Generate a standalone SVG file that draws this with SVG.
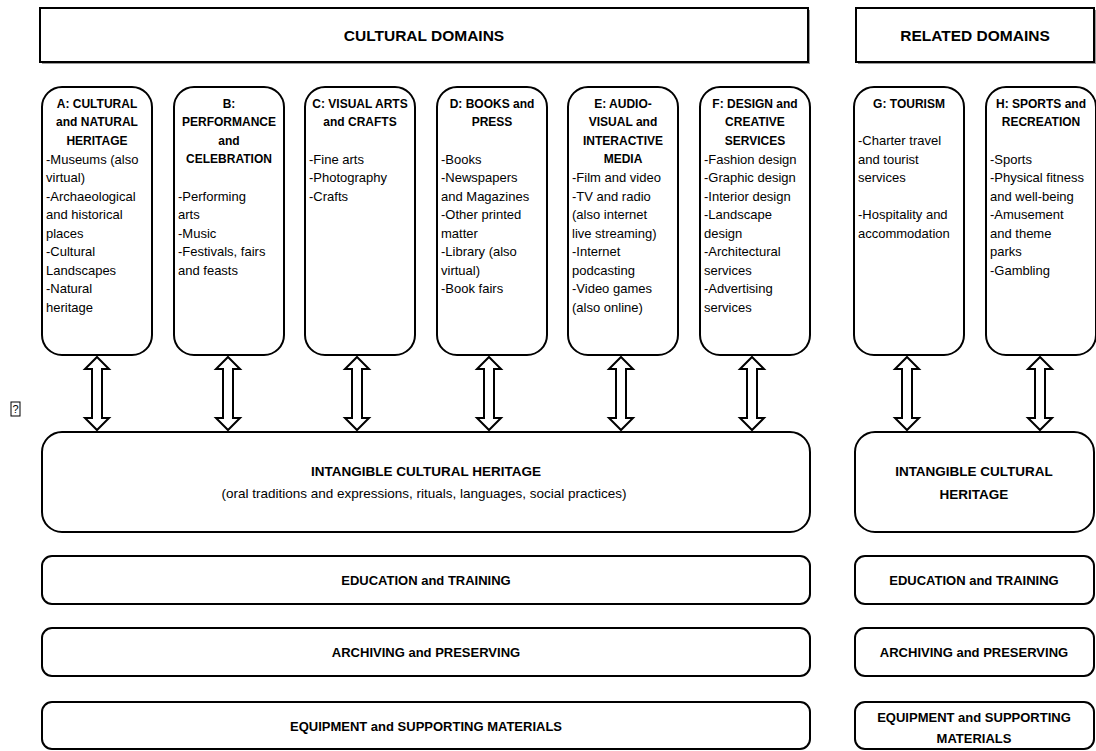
<svg xmlns="http://www.w3.org/2000/svg" width="1096" height="751" viewBox="0 0 1096 751">
<style>
text{font-family:"Liberation Sans",Arial,sans-serif;fill:#000}
.box{fill:#fff;stroke:#000;stroke-width:2}
.shadow{fill:#9a9a9a;stroke:none}
.hdr{font-size:15.5px;font-weight:bold;text-anchor:middle}
.t{font-size:12px;font-weight:bold;text-anchor:middle}
.b{font-size:13px}
.big{font-size:13.5px;font-weight:bold;text-anchor:middle}
.sub{font-size:13.5px;text-anchor:middle}
.lbl{font-size:13px;font-weight:bold;text-anchor:middle}
.arr{fill:#fff;stroke:#000;stroke-width:2;stroke-linejoin:miter}
</style>
<defs>
<path id="dbl" class="arr" d="M0,357 L12,369 L5,369 L5,418 L12,418 L0,430 L-12,418 L-5,418 L-5,369 L-12,369 Z"/>
</defs>

<g id="hdr-cultural">
<rect class="shadow" x="42" y="10" width="768" height="54"/>
<rect class="box" x="40" y="8" width="768" height="54"/>
<text class="hdr" x="424" y="41">CULTURAL DOMAINS</text>
</g>
<g id="hdr-related">
<rect class="shadow" x="858" y="10" width="238" height="54"/>
<rect class="box" x="856" y="8" width="238" height="54"/>
<text class="hdr" x="975" y="41">RELATED DOMAINS</text>
</g>

<g id="domain-a">
<rect class="box" x="42" y="87" width="110" height="268" rx="20"/>
<text class="t" x="97" y="108">A: CULTURAL</text>
<text class="t" x="97" y="126">and NATURAL</text>
<text class="t" x="97" y="145">HERITAGE</text>
<text class="b" x="46" y="164">-Museums (also</text>
<text class="b" x="46" y="182">virtual)</text>
<text class="b" x="46" y="201">-Archaeological</text>
<text class="b" x="46" y="219">and historical</text>
<text class="b" x="46" y="238">places</text>
<text class="b" x="46" y="256">-Cultural</text>
<text class="b" x="46" y="275">Landscapes</text>
<text class="b" x="46" y="293">-Natural</text>
<text class="b" x="46" y="312">heritage</text>
</g>

<g id="domain-b">
<rect class="box" x="174" y="87" width="110" height="268" rx="20"/>
<text class="t" x="229" y="108">B:</text>
<text class="t" x="229" y="126">PERFORMANCE</text>
<text class="t" x="229" y="145">and</text>
<text class="t" x="229" y="163">CELEBRATION</text>
<text class="b" x="178" y="201">-Performing</text>
<text class="b" x="178" y="219">arts</text>
<text class="b" x="178" y="238">-Music</text>
<text class="b" x="178" y="256">-Festivals, fairs</text>
<text class="b" x="178" y="275">and feasts</text>
</g>

<g id="domain-c">
<rect class="box" x="305" y="87" width="110" height="268" rx="20"/>
<text class="t" x="360" y="108">C: VISUAL ARTS</text>
<text class="t" x="360" y="126">and CRAFTS</text>
<text class="b" x="309" y="164">-Fine arts</text>
<text class="b" x="309" y="182">-Photography</text>
<text class="b" x="309" y="201">-Crafts</text>
</g>

<g id="domain-d">
<rect class="box" x="437" y="87" width="110" height="268" rx="20"/>
<text class="t" x="492" y="108">D: BOOKS and</text>
<text class="t" x="492" y="126">PRESS</text>
<text class="b" x="441" y="164">-Books</text>
<text class="b" x="441" y="182">-Newspapers</text>
<text class="b" x="441" y="201">and Magazines</text>
<text class="b" x="441" y="219">-Other printed</text>
<text class="b" x="441" y="238">matter</text>
<text class="b" x="441" y="256">-Library (also</text>
<text class="b" x="441" y="275">virtual)</text>
<text class="b" x="441" y="293">-Book fairs</text>
</g>

<g id="domain-e">
<rect class="box" x="568" y="87" width="110" height="268" rx="20"/>
<text class="t" x="623" y="108">E: AUDIO-</text>
<text class="t" x="623" y="126">VISUAL and</text>
<text class="t" x="623" y="145">INTERACTIVE</text>
<text class="t" x="623" y="163">MEDIA</text>
<text class="b" x="572" y="182">-Film and video</text>
<text class="b" x="572" y="201">-TV and radio</text>
<text class="b" x="572" y="219">(also internet</text>
<text class="b" x="572" y="238">live streaming)</text>
<text class="b" x="572" y="256">-Internet</text>
<text class="b" x="572" y="275">podcasting</text>
<text class="b" x="572" y="293">-Video games</text>
<text class="b" x="572" y="312">(also online)</text>
</g>

<g id="domain-f">
<rect class="box" x="700" y="87" width="110" height="268" rx="20"/>
<text class="t" x="755" y="108">F: DESIGN and</text>
<text class="t" x="755" y="126">CREATIVE</text>
<text class="t" x="755" y="145">SERVICES</text>
<text class="b" x="704" y="164">-Fashion design</text>
<text class="b" x="704" y="182">-Graphic design</text>
<text class="b" x="704" y="201">-Interior design</text>
<text class="b" x="704" y="219">-Landscape</text>
<text class="b" x="704" y="238">design</text>
<text class="b" x="704" y="256">-Architectural</text>
<text class="b" x="704" y="275">services</text>
<text class="b" x="704" y="293">-Advertising</text>
<text class="b" x="704" y="312">services</text>
</g>

<g id="domain-g">
<rect class="box" x="854" y="87" width="110" height="268" rx="20"/>
<text class="t" x="909" y="108">G: TOURISM</text>
<text class="b" x="858" y="145">-Charter travel</text>
<text class="b" x="858" y="164">and tourist</text>
<text class="b" x="858" y="182">services</text>
<text class="b" x="858" y="219">-Hospitality and</text>
<text class="b" x="858" y="238">accommodation</text>
</g>

<g id="domain-h">
<rect class="box" x="986" y="87" width="110" height="268" rx="20"/>
<text class="t" x="1041" y="108">H: SPORTS and</text>
<text class="t" x="1041" y="126">RECREATION</text>
<text class="b" x="990" y="164">-Sports</text>
<text class="b" x="990" y="182">-Physical fitness</text>
<text class="b" x="990" y="201">and well-being</text>
<text class="b" x="990" y="219">-Amusement</text>
<text class="b" x="990" y="238">and theme</text>
<text class="b" x="990" y="256">parks</text>
<text class="b" x="990" y="275">-Gambling</text>
</g>

<g id="connectors">
<use href="#dbl" x="97"/>
<use href="#dbl" x="228"/>
<use href="#dbl" x="357"/>
<use href="#dbl" x="489"/>
<use href="#dbl" x="621"/>
<use href="#dbl" x="752"/>
<use href="#dbl" x="907"/>
<use href="#dbl" x="1040"/>
</g>

<g id="stray-mark">
<rect x="11" y="402" width="9" height="14" fill="#fff" stroke="#000" stroke-width="1"/>
<text x="15.5" y="413" font-size="11" text-anchor="middle">?</text>
</g>

<g id="ich-main">
<rect class="box" x="42" y="432" width="768" height="100" rx="20"/>
<text class="big" x="426" y="476">INTANGIBLE CULTURAL HERITAGE</text>
<text class="sub" x="424" y="498">(oral traditions and expressions, rituals, languages, social practices)</text>
</g>
<g id="ich-related">
<rect class="box" x="855" y="432" width="239" height="100" rx="20"/>
<text class="big" x="974" y="476">INTANGIBLE CULTURAL</text>
<text class="big" x="974" y="499">HERITAGE</text>
</g>

<g id="edu-main">
<rect class="box" x="42" y="556" width="768" height="48" rx="10"/>
<text class="lbl" x="426" y="585">EDUCATION and TRAINING</text>
</g>
<g id="edu-related">
<rect class="box" x="855" y="556" width="239" height="48" rx="10"/>
<text class="lbl" x="974" y="585">EDUCATION and TRAINING</text>
</g>

<g id="arch-main">
<rect class="box" x="42" y="628" width="768" height="48" rx="10"/>
<text class="lbl" x="426" y="657">ARCHIVING and PRESERVING</text>
</g>
<g id="arch-related">
<rect class="box" x="855" y="628" width="239" height="48" rx="10"/>
<text class="lbl" x="974" y="657">ARCHIVING and PRESERVING</text>
</g>

<g id="equip-main">
<rect class="box" x="42" y="702" width="768" height="47" rx="10"/>
<text class="lbl" x="426" y="731">EQUIPMENT and SUPPORTING MATERIALS</text>
</g>
<g id="equip-related">
<rect class="box" x="855" y="702" width="239" height="47" rx="10"/>
<text class="lbl" x="974" y="722">EQUIPMENT and SUPPORTING</text>
<text class="lbl" x="974" y="743">MATERIALS</text>
</g>
</svg>
